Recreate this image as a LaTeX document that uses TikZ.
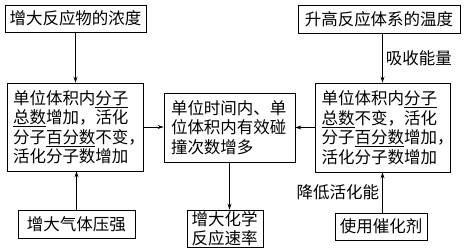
\documentclass[tikz,border=0pt]{standalone}
\usepackage{fontspec}
\setmainfont{Noto Sans CJK SC}
\usetikzlibrary{arrows.meta}

\begin{document}
\begin{tikzpicture}[x=1pt, y=-1pt, >={Stealth[length=6pt,width=4pt]},
  box/.style={draw, line width=0.9pt, inner sep=0pt, align=center,
    font=\fontsize{16.5}{19.5}\selectfont},
  txt/.style={font=\fontsize{16.5}{19.5}\selectfont, inner sep=3pt},
  link/.style={->, line width=0.8pt}]
  \useasboundingbox (0,0) rectangle (467,249);
  % the four causes
  \node[box, minimum width=141, minimum height=27] (conc) at (75.5,18.5) {增大反应物的浓度};
  \node[box, minimum width=162, minimum height=28] (temp) at (379,19) {升高反应体系的温度};
  \node[box, minimum width=117, minimum height=28] (press) at (76.5,224) {增大气体压强};
  \node[box, minimum width=92, minimum height=27] (cat) at (381,226.5) {使用催化剂};
  % what changes inside
  \node[box, align=left, text width=124, inner xsep=6pt, minimum height=88] (left) at (75,127)
    {单位体积内\underline{分子}\\\underline{总数}增加，活化\\分子\underline{百分数}不变，\\活化分子数增加};
  \node[box, align=left, text width=122, inner xsep=6.5pt, minimum height=89] (right) at (382.5,127.5)
    {单位体积内\underline{分子}\\\underline{总数}不变，活化\\分子\underline{百分数}增加，\\活化分子数增加};
  \node[box, align=left, text width=117, inner xsep=7pt, minimum height=69] (mid) at (229.5,127.5)
    {单位时间内、单\\位体积内有效碰\\撞次数增多};
  \node[box, align=left, text width=67, inner xsep=4.5pt, minimum height=37] (rate) at (225,228.5)
    {增大化学\\反应速率};
  % arrows
  \draw[link] (conc.south) -- (conc.south |- left.north);
  \draw[link] (press.north) -- (press.north |- left.south);
  \draw[link] (temp.south -| right.north) -- node[txt, right] (absorb) {吸收能量} (right.north);
  \draw[link] (cat.north -| right.south) -- node[txt, left] (lower) {降低活化能} (right.south);
  \draw[link] (left.east) -- (left.east -| mid.west);
  \draw[link] (right.west) -- (right.west -| mid.east);
  \draw[link] (mid.south) -- (mid.south |- rate.north);
\end{tikzpicture}
\end{document}
